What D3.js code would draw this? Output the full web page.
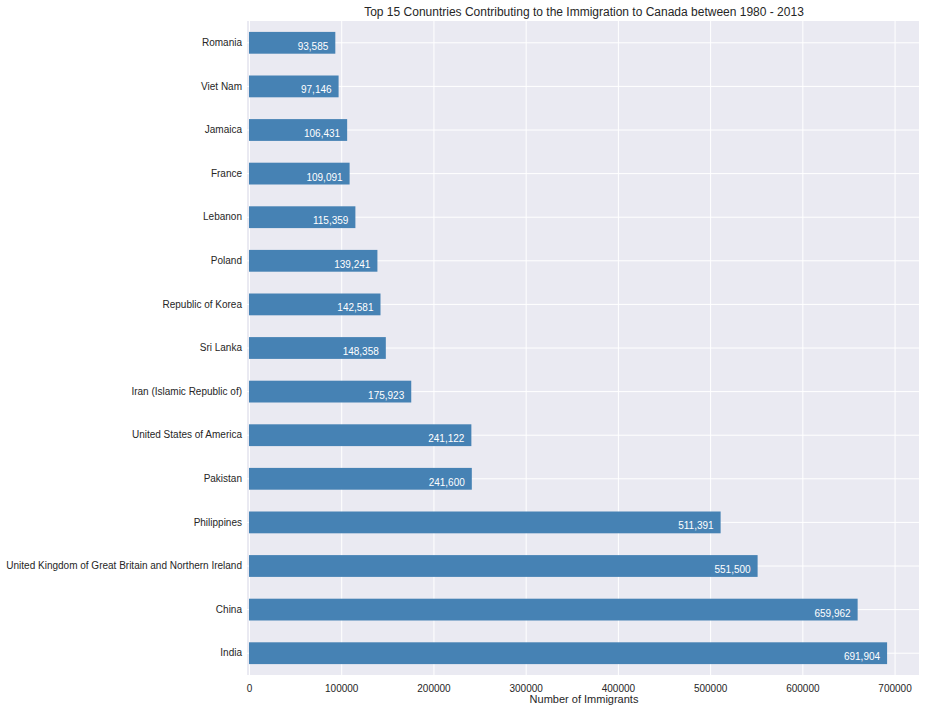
<!DOCTYPE html>
<html lang="en">
<head>
    <meta charset="UTF-8">
    <title>Top 15 Countries - Immigration to Canada</title>
    <script src="https://d3js.org/d3.v7.min.js"></script>
    <style>
        body {
            margin: 0;
            background-color: #ffffff;
        }
        svg text {
            font-family: 'Liberation Sans', Arial, sans-serif;
            fill: #262626;
        }
        .grid line {
            stroke: #ffffff;
            stroke-width: 1;
        }
        .grid path {
            display: none;
        }
    </style>
</head>
<body>
    <svg id="chart" width="925" height="712"></svg>
    <script>
        // countries, top of the chart first
        const countries = [
            'Romania', 'Viet Nam', 'Jamaica', 'France', 'Lebanon', 'Poland',
            'Republic of Korea', 'Sri Lanka', 'Iran (Islamic Republic of)',
            'United States of America', 'Pakistan', 'Philippines',
            'United Kingdom of Great Britain and Northern Ireland', 'China', 'India'
        ];
        const totals = [
            93585, 97146, 106431, 109091, 115359, 139241,
            142581, 148358, 175923,
            241122, 241600, 511391,
            551500, 659962, 691904
        ];
        const xTicks = [0, 100000, 200000, 300000, 400000, 500000, 600000, 700000];

        const svg = d3.select('#chart');
        const margin = { top: 21, right: 6, bottom: 37, left: 249 };
        const width = 925 - margin.left - margin.right;
        const height = 712 - margin.top - margin.bottom;

        const g = svg.append('g')
            .attr('transform', `translate(${margin.left},${margin.top})`);

        // x range like matplotlib: 0 .. max * 1.05
        const x = d3.scaleLinear()
            .domain([0, d3.max(totals) * 1.05])
            .range([0, width]);

        // bar height is half a step, half a bar of space at each end
        const y = d3.scaleBand()
            .domain(countries)
            .range([0, height])
            .paddingInner(0.5)
            .paddingOuter(0.25);

        const data = countries.map((c, i) => ({ country: c, total: totals[i] }));

        // background
        g.append('rect')
            .attr('x', -2)
            .attr('y', 0)
            .attr('width', width + 2)
            .attr('height', height)
            .attr('fill', '#eaeaf2');

        // vertical grid
        g.append('g')
            .attr('class', 'grid')
            .attr('transform', `translate(0,${height})`)
            .call(d3.axisBottom(x).tickValues(xTicks).tickSize(-height).tickFormat(''));

        // horizontal grid at category centers
        g.append('g')
            .attr('class', 'grid')
            .call(d3.axisLeft(y).tickSize(-width).tickFormat(''))
            .call(a => a.selectAll('line').attr('x1', -2));

        // bars
        g.selectAll('rect.bar')
            .data(data)
            .enter()
            .append('rect')
            .attr('class', 'bar')
            .attr('x', x(0))
            .attr('y', d => y(d.country))
            .attr('width', d => x(d.total) - x(0))
            .attr('height', y.bandwidth())
            .attr('fill', '#4682b4');

        // value labels inside the bars
        g.selectAll('text.value')
            .data(data)
            .enter()
            .append('text')
            .attr('class', 'value')
            .attr('x', d => x(d.total) - 7)
            .attr('y', d => y(d.country) + y.bandwidth() / 2 + 7)
            .attr('text-anchor', 'end')
            .style('fill', '#ffffff')
            .style('font-size', '10px')
            .text(d => d3.format(',')(d.total));

        // x tick labels
        const xAxis = g.append('g')
            .attr('transform', `translate(0,${height})`)
            .call(d3.axisBottom(x).tickValues(xTicks).tickSize(0).tickPadding(10).tickFormat(d3.format('d')));
        xAxis.select('.domain').remove();
        xAxis.selectAll('text').style('font-size', '10px').style('fill', '#262626');

        // y tick labels
        const yAxis = g.append('g')
            .call(d3.axisLeft(y).tickSize(0).tickPadding(7));
        yAxis.select('.domain').remove();
        yAxis.selectAll('text').style('font-size', '10px').style('fill', '#262626');

        // axis label
        svg.append('text')
            .attr('x', margin.left + width / 2)
            .attr('y', 703)
            .attr('text-anchor', 'middle')
            .style('font-size', '11px')
            .text('Number of Immigrants');

        // title
        svg.append('text')
            .attr('x', margin.left + width / 2)
            .attr('y', 16)
            .attr('text-anchor', 'middle')
            .style('font-size', '12px')
            .text('Top 15 Conuntries Contributing to the Immigration to Canada between 1980 - 2013');
    </script>
</body>
</html>
